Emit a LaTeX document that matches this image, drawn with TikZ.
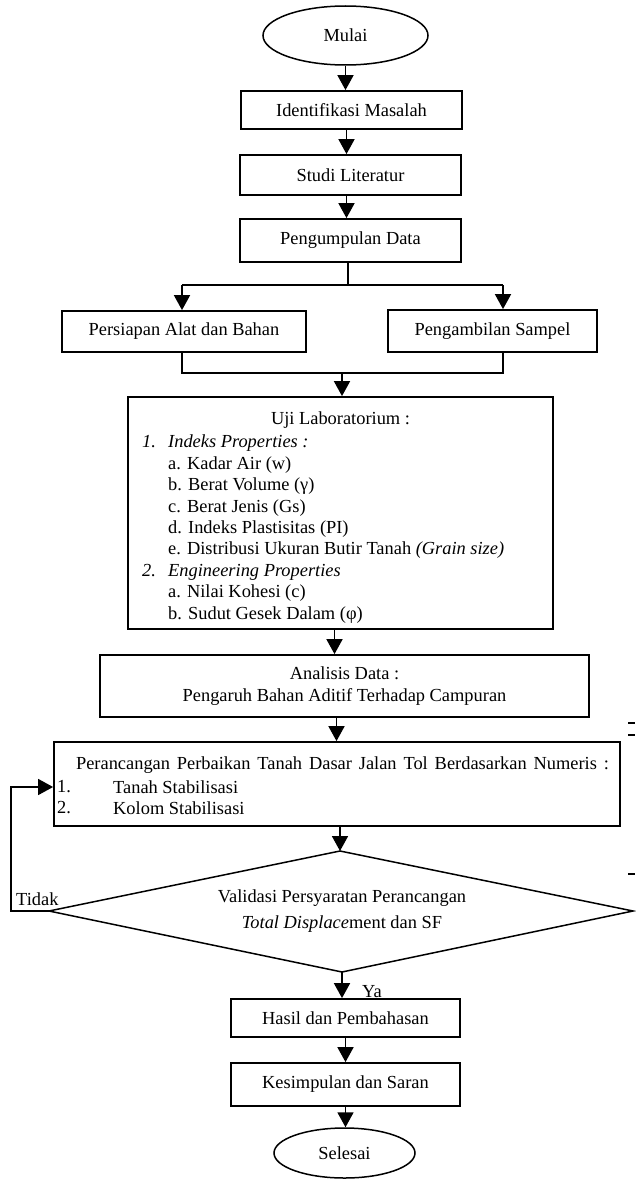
\documentclass[tikz,border=0pt]{standalone}
\usepackage{fontspec}
\setmainfont{Liberation Serif}
\usetikzlibrary{arrows.meta,shapes.geometric}
\newcommand\fsz{\fontsize{18.4}{21.4}\selectfont}
\newcommand\fszd{\fontsize{18.4}{26}\selectfont}
\tikzset{
  box/.style={draw, line width=1.8pt, rectangle, inner sep=0pt, font=\fsz, align=center},
  term/.style={draw, line width=1.5pt, ellipse, inner sep=0pt, font=\fsz},
  arr/.style={line width=1.8pt, -{Triangle[length=15pt,width=16pt]}},
  ln/.style={line width=1.8pt},
  txt/.style={inner sep=0pt, font=\fsz},
  tickln/.style={line width=2pt},
}
\begin{document}
\begin{tikzpicture}[x=1pt,y=-1pt]
\useasboundingbox (0,0) rectangle (635,1180);
% nodes
\node[term, minimum width=165pt, minimum height=59pt] (mulai) at (345.5,35.5) {Mulai};
\node[box, minimum width=221pt, minimum height=38pt] (ident) at (351.5,110) {Identifikasi Masalah};
\node[box, minimum width=221pt, minimum height=40pt] (studi) at (350.5,175) {Studi Literatur};
\node[box, minimum width=221pt, minimum height=43pt] (kumpul) at (350.5,240.5) {Pengumpulan Data};
\node[box, minimum width=244pt, minimum height=41pt] (siap) at (184,331.5) {Persiapan Alat dan Bahan};
\node[box, minimum width=209pt, minimum height=42pt] (ambil) at (492.5,331) {Pengambilan Sampel};
\node[box, minimum width=425pt, minimum height=232pt] (uji) at (340.5,513) {};
\node[txt] (ujit) at (340.5,420) {Uji Laboratorium :};
\node[txt, anchor=north west, align=left] (ujil) at (142,435) {%
\makebox[26pt][l]{\textit{1.}}\textit{Indeks Properties :}\\
\hspace*{26pt}a. Kadar Air (w)\\
\hspace*{26pt}b. Berat Volume (γ)\\
\hspace*{26pt}c. Berat Jenis (Gs)\\
\hspace*{26pt}d. Indeks Plastisitas (PI)\\
\hspace*{26pt}e. Distribusi Ukuran Butir Tanah \textit{(Grain size)}\\
\makebox[26pt][l]{\textit{2.}}\textit{Engineering Properties}\\
\hspace*{26pt}a. Nilai Kohesi (c)\\
\hspace*{26pt}b. Sudut Gesek Dalam (φ)};
\node[box, minimum width=489pt, minimum height=62pt] (analisis) at (344.5,686) {Analisis Data :\\Pengaruh Bahan Aditif Terhadap Campuran};
\node[box, minimum width=566pt, minimum height=84pt] (rancang) at (337,784) {};
\node[txt] (ranct) at (342.5,765) {\spaceskip=6.9pt Perancangan Perbaikan Tanah Dasar Jalan Tol Berdasarkan Numeris :};
\node[txt, anchor=west] (r1n) at (57,787) {1.};
\node[txt, anchor=west] (r1t) at (113,787) {Tanah Stabilisasi};
\node[txt, anchor=west] (r2n) at (57,808) {2.};
\node[txt, anchor=west] (r2t) at (113,808) {Kolom Stabilisasi};
% decision
\coordinate (dt) at (340,851);
\coordinate (dl) at (49,911);
\coordinate (dr) at (633,911);
\coordinate (db) at (342,972);
\draw[line width=1.5pt, line join=miter] (dt) -- (dr) -- (db) -- (dl) -- cycle;
\node[txt, align=center, font=\fszd] (valid) at (342,911) {Validasi Persyaratan Perancangan\\\textit{Total Displace}ment dan SF};
\node[box, minimum width=229pt, minimum height=38pt] (hasil) at (345.5,1018) {Hasil dan Pembahasan};
\node[box, minimum width=229pt, minimum height=43pt] (simpul) at (345.5,1084.5) {Kesimpulan dan Saran};
\node[term, minimum width=141pt, minimum height=50pt] (selesai) at (344.5,1153) {Selesai};
% labels
\node[txt, anchor=base west] (tidak) at (16,905) {Tidak};
\node[txt, anchor=west] (ya) at (362,992) {Ya};
% connectors
\draw[arr] (mulai.south) -- (mulai.south |- ident.north);
\draw[arr] ([xshift=-5pt]ident.south) -- ([xshift=-5pt]ident.south |- studi.north);
\draw[arr] ([xshift=-4pt]studi.south) -- ([xshift=-4pt]studi.south |- kumpul.north);
\coordinate (split) at (348,285);
\coordinate (splitL) at (182,285);
\coordinate (splitR) at (503,285);
\draw[ln] (kumpul.south -| split) -- (split);
\draw[ln] (splitL) -- (splitR);
\draw[arr] (splitL) -- (splitL |- siap.north);
\draw[arr] (splitR) -- (splitR |- ambil.north);
\coordinate (mergeL) at (182,373);
\coordinate (mergeR) at (503,373);
\coordinate (merge) at (342,373);
\draw[ln, line join=miter] (mergeL |- siap.south) -- (mergeL) -- (mergeR) -- (mergeR |- ambil.south);
\draw[arr] (merge) -- (merge |- uji.north);
\draw[arr] ([xshift=-6pt]uji.south) -- ([xshift=-6pt]uji.south |- analisis.north);
\draw[arr] ([xshift=-8pt]analisis.south) -- ([xshift=-8pt]analisis.south |- rancang.north);
\draw[arr] (rancang.south -| dt) -- (dt);
\draw[arr] (db) -- (db |- hasil.north);
\draw[arr] (hasil.south) -- (hasil.south |- simpul.north);
\draw[arr] (simpul.south) -- (simpul.south |- selesai.north);
\coordinate (fbL) at (11,911);
\coordinate (fbT) at (11,787);
\draw[line width=1.5pt, line join=miter, -{Triangle[length=15pt,width=16pt]}] (dl) -- (fbL) -- (fbT) -- (fbT -| rancang.west);
% stray marks at right margin
\draw[tickln] (628,723) -- (635,723);
\draw[tickln] (628,735) -- (635,735);
\draw[tickln] (628,874) -- (635,874);
\end{tikzpicture}
\end{document}
